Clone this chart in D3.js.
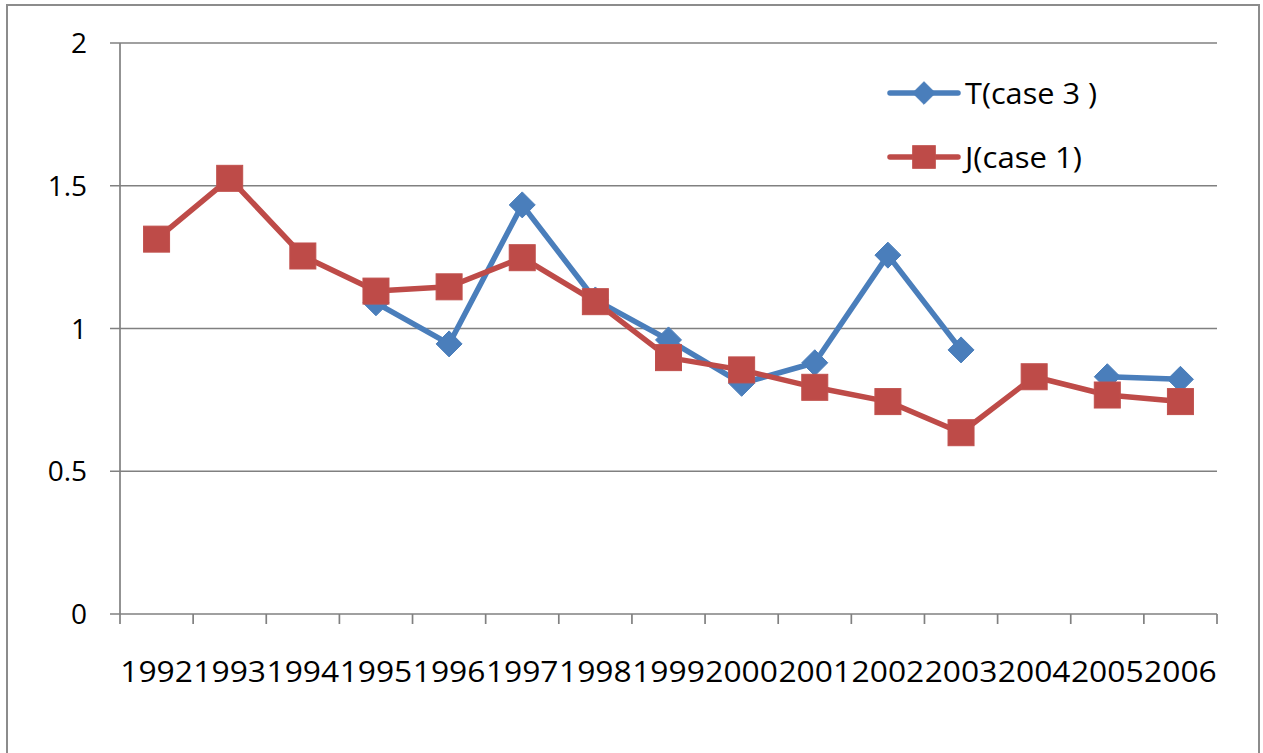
<!DOCTYPE html>
<html>
<head>
<meta charset="utf-8">
<script src="https://cdn.jsdelivr.net/npm/d3@7"></script>
<style>
  html, body { margin: 0; padding: 0; background: #fff; }
  svg { display: block; }
  text { font-family: "Open Sans", sans-serif; fill: #000; }
</style>
</head>
<body>
<script>
// ---- data ----
const years = ["1992","1993","1994","1995","1996","1997","1998","1999","2000","2001","2002","2003","2004","2005","2006"];
const seriesT = [null, null, null, 1.09, 0.946, 1.433, 1.10, 0.96, 0.808, 0.88, 1.257, 0.925, null, 0.831, 0.822];
const seriesJ = [1.313, 1.526, 1.254, 1.131, 1.146, 1.248, 1.094, 0.898, 0.855, 0.794, 0.744, 0.635, 0.831, 0.767, 0.744];
const yTicks = [0, 0.5, 1, 1.5, 2];
const yTickLabels = ["0", "0.5", "1", "1.5", "2"];
const legendLabels = ["T(case 3 )", "J(case 1)"];
const colors = ["#4a7ebb", "#be4b48"];

const W = 1263, H = 753;
const svg = d3.select("body").append("svg").attr("width", W).attr("height", H);

// outer frame
svg.append("rect").attr("x", 7).attr("y", 5).attr("width", 1252).attr("height", 760)
  .attr("fill", "none").attr("stroke", "#8c8c8c").attr("stroke-width", 2);

const x = d3.scaleBand().domain(years).range([120, 1217]);
const y = d3.scaleLinear().domain([0, 2]).range([614, 43]);
const grid = "#808080";

// horizontal gridlines
svg.append("g").selectAll("line").data(yTicks).join("line")
  .attr("x1", 110).attr("x2", 1217)
  .attr("y1", d => y(d)).attr("y2", d => y(d))
  .attr("stroke", grid).attr("stroke-width", 1.7);

// y axis line
svg.append("line").attr("x1", 120).attr("x2", 120).attr("y1", y(2)).attr("y2", y(0))
  .attr("stroke", grid).attr("stroke-width", 1.7);

// x ticks at band boundaries
const bounds = years.map(d => x(d)).concat([x(years[years.length - 1]) + x.bandwidth()]);
svg.append("g").selectAll("line").data(bounds).join("line")
  .attr("x1", d => d).attr("x2", d => d).attr("y1", y(0)).attr("y2", y(0) + 10)
  .attr("stroke", grid).attr("stroke-width", 1.7);

// y labels
svg.append("g").selectAll("text").data(yTicks).join("text")
  .attr("x", 87).attr("y", d => y(d) + 10)
  .attr("text-anchor", "end").style("font-size", "28px")
  .text((d, i) => yTickLabels[i]);

// x labels
svg.append("g").selectAll("text").data(years).join("text")
  .attr("x", d => x(d) + x.bandwidth() / 2).attr("y", 682)
  .attr("text-anchor", "middle").style("font-size", "30px")
  .attr("textLength", x.bandwidth() - 0.5).attr("lengthAdjust", "spacingAndGlyphs")
  .text(d => d);

const cx = d => x(d) + x.bandwidth() / 2;

function drawSeries(vals, color, marker) {
  const pts = years.map((yr, i) => ({ yr, v: vals[i] }));
  const line = d3.line().defined(d => d.v != null).x(d => cx(d.yr)).y(d => y(d.v));
  svg.append("path").datum(pts).attr("d", line)
    .attr("fill", "none").attr("stroke", color).attr("stroke-width", 5.5)
    .attr("stroke-linejoin", "round").attr("stroke-linecap", "round");
  const g = svg.append("g");
  pts.filter(d => d.v != null).forEach(d => {
    drawMarker(g, cx(d.yr), y(d.v), color, marker, 1);
  });
}

function drawMarker(g, px, py, color, marker, s) {
  if (marker === "diamond") {
    const r = 13 * s;
    g.append("path").attr("d", `M${px},${py - r}L${px + r},${py}L${px},${py + r}L${px - r},${py}Z`)
      .attr("fill", color).attr("stroke", color).attr("stroke-width", 1);
  } else {
    const h = 13 * s;
    g.append("rect").attr("x", px - h).attr("y", py - h).attr("width", 2 * h).attr("height", 2 * h)
      .attr("fill", color).attr("stroke", "#c0504d").attr("stroke-width", 1);
  }
}

drawSeries(seriesT, colors[0], "diamond");
drawSeries(seriesJ, colors[1], "square");

// legend
const legY = [93, 157];
const legW = [132, 117];
const markers = ["diamond", "square"];
const lg = svg.append("g");
legendLabels.forEach((lab, i) => {
  lg.append("line").attr("x1", 890).attr("x2", 958).attr("y1", legY[i]).attr("y2", legY[i])
    .attr("stroke", colors[i]).attr("stroke-width", 5.5).attr("stroke-linecap", "round");
  drawMarker(lg, 924, legY[i], colors[i], markers[i], 0.87);
  lg.append("text").attr("x", 965).attr("y", legY[i] + 11).style("font-size", "29px")
    .attr("textLength", legW[i]).attr("lengthAdjust", "spacingAndGlyphs").text(lab);
});
</script>
</body>
</html>
